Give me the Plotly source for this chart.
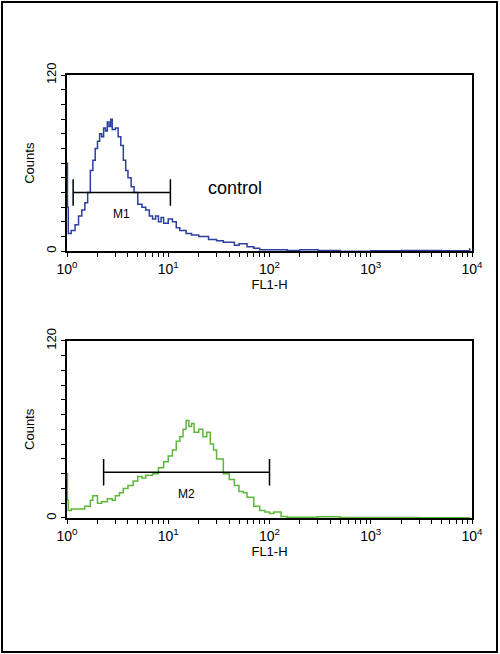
import math
import plotly.graph_objects as go

ctrl_x = [1.0, 1.01, 1.03, 1.1, 1.2, 1.3, 1.4, 1.5, 1.6, 1.7, 1.8, 1.9, 2.0, 2.1, 2.2, 2.3, 2.4, 2.5, 2.6, 2.7, 2.8, 3.0, 3.2, 3.4, 3.6, 3.8, 4.0, 4.3, 4.6, 5.0, 5.5, 6.0, 6.5, 7.0, 7.5, 8.0, 8.5, 9.0, 10, 11, 12, 13, 15, 17, 20, 25, 30, 35, 40, 45, 50, 60, 70, 80, 100, 150, 200, 300, 500, 1000, 2000, 5000, 9500]
ctrl_y = [60, 30, 12, 14, 18, 24, 28, 33, 40, 55, 62, 70, 75, 80, 78, 84, 82, 88, 85, 90, 83, 84, 78, 72, 62, 55, 50, 44, 40, 32, 30, 28, 24, 22, 24, 20, 23, 19, 22, 20, 16, 14, 12, 11, 10, 8, 7, 6, 6, 4, 5, 3, 2, 1, 1, 0.5, 1, 0.5, 0, 0.3, 0.5, 0.3, 2]
samp_x = [1.0, 1.01, 1.03, 1.1, 1.3, 1.5, 1.7, 1.8, 2.0, 2.2, 2.5, 2.8, 3.0, 3.3, 3.6, 4, 4.5, 5, 5.5, 6, 7, 8, 9, 10, 11, 12, 13, 14, 15, 16, 17, 18, 20, 22, 24, 26, 28, 30, 35, 40, 45, 50, 55, 60, 70, 80, 90, 100, 110, 130, 150, 200, 300, 500, 1000, 3000, 9500]
samp_y = [30, 12, 5, 6, 6, 8, 12, 15, 10, 11, 13, 12, 15, 17, 20, 22, 25, 28, 27, 29, 30, 34, 38, 42, 46, 52, 55, 60, 66, 62, 64, 58, 60, 55, 58, 50, 46, 40, 30, 26, 22, 18, 17, 14, 8, 5, 4, 3, 4, 1, 0.5, 0.5, 0.8, 0.3, 0.3, 0.2, 0.5]
gates = [("M1", 1.15, 10.5, 40), ("M2", 2.3, 100, 31)]

FONT = "Liberation Sans, Arial, sans-serif"
fig = go.Figure()
fig.add_trace(go.Scatter(x=ctrl_x, y=ctrl_y, mode="lines", line=dict(color="#2b3fa0", width=1.5, shape="hv"), xaxis="x", yaxis="y"))
fig.add_trace(go.Scatter(x=samp_x, y=samp_y, mode="lines", line=dict(color="#5cb83a", width=1.5, shape="hv"), xaxis="x2", yaxis="y2"))

tv = [m * 10**d for d in range(4) for m in range(1, 10)] + [10000]
tt = [f"10<sup>{d}</sup>" if m == 1 else "" for d in range(4) for m in range(1, 10)] + ["10<sup>4</sup>"]
yv = list(range(0, 121, 10))
yt = ["0"] + [""] * 11 + ["120"]

def xa(dom_anchor):
    return dict(type="log", range=[0, 4], domain=[0.134, 0.944], anchor=dom_anchor, tickvals=tv, ticktext=tt,
                ticks="outside", ticklen=4, tickcolor="black", showline=True, linecolor="black", linewidth=2,
                mirror=True, showgrid=False, zeroline=False, tickfont=dict(size=14, family=FONT, color="black"),
                title=dict(text="FL1-H", font=dict(size=13, family=FONT, color="black"), standoff=2))

def ya(dom, anchor):
    return dict(range=[0, 120], domain=dom, anchor=anchor, tickvals=yv, ticktext=yt, tickangle=-90,
                ticks="outside", ticklen=4, tickcolor="black", showline=True, linecolor="black", linewidth=2,
                mirror=True, showgrid=False, zeroline=False, tickfont=dict(size=13, family=FONT, color="black"),
                title=dict(text="Counts", font=dict(size=13, family=FONT, color="black"), standoff=6))

fig.update_layout(width=500, height=654, autosize=False,
                  margin=dict(l=0, r=0, t=0, b=0, autoexpand=False), showlegend=False,
                  paper_bgcolor="white", plot_bgcolor="white",
                  xaxis=xa("y"), yaxis=ya([0.616, 0.885], "x"),
                  xaxis2=xa("y2"), yaxis2=ya([0.208, 0.479], "x2"))

for i, (lab, x0, x1, yy) in enumerate(gates):
    xr = "x" if i == 0 else "x2"
    yr = "y" if i == 0 else "y2"
    fig.add_shape(type="line", xref=xr, yref=yr, x0=x0, x1=x1, y0=yy, y1=yy, line=dict(color="black", width=1.5))
    for xx in (x0, x1):
        fig.add_shape(type="line", xref=xr, yref=yr, x0=xx, x1=xx, y0=yy - 9, y1=yy + 9, line=dict(color="black", width=1.5))
    fig.add_annotation(xref=xr, yref=yr, x=(math.log10(x0) + math.log10(x1)) / 2, y=yy - 15, text=lab, showarrow=False,
                       font=dict(size=12, family=FONT, color="black"))
fig.add_annotation(xref="x", yref="y", x=1.66, y=43, text="control", showarrow=False,
                   font=dict(size=18, family=FONT, color="black"))
fig.add_shape(type="rect", xref="paper", yref="paper", x0=0.004, x1=0.994, y0=0.003, y1=0.997,
              line=dict(color="black", width=2))

body = fig.to_html(full_html=False, include_plotlyjs=True, config={"displayModeBar": False})
with open("out.html", "w", encoding="utf-8") as f:
    f.write("<!DOCTYPE html><html><head><meta charset='utf-8'>"
            "<style>html,body{margin:0;padding:0;overflow:hidden;}</style></head><body>"
            + body + "</body></html>")
